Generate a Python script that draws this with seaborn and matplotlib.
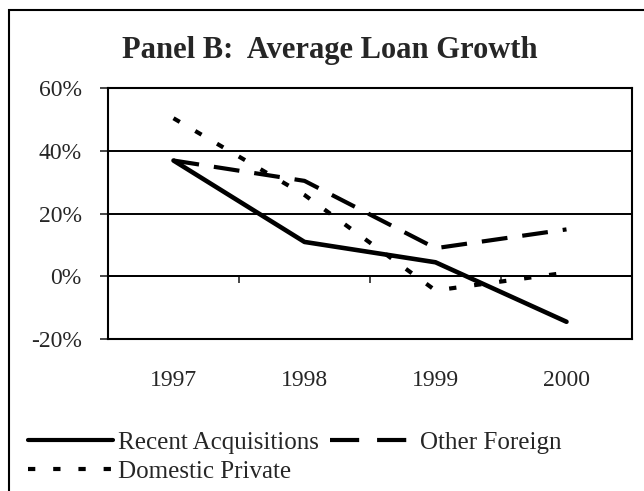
import pandas as pd
import matplotlib.pyplot as plt
from matplotlib.patches import Rectangle
import seaborn as sns

# values (loan growth, %)
years = ['1997', '1998', '1999', '2000']
recent_acq = [37.0, 11.0, 4.5, -14.5]
other_foreign = [37.0, 30.5, 9.0, 15.0]
domestic_private = [50.5, 26.0, -4.5, 1.2]
series_names = ['Recent Acquisitions', 'Other Foreign', 'Domestic Private']
y_ticks = [-20, 0, 20, 40, 60]

df = pd.DataFrame({
    'year': years * 3,
    'growth': recent_acq + other_foreign + domestic_private,
    'series': [s for s in series_names for _ in years],
})

sns.set_style('white')
plt.rcParams['font.family'] = ['Liberation Serif', 'DejaVu Serif']

fig = plt.figure(figsize=(6.44, 4.91), dpi=100)
ax = fig.add_axes([108 / 644, 1 - 339 / 491, (632 - 108) / 644, (339 - 88.5) / 491])

dash_map = {'Recent Acquisitions': '', 'Other Foreign': (6.2, 3.6), 'Domestic Private': (1.75, 4.3)}
sns.lineplot(data=df, x='year', y='growth', hue='series', style='series',
             palette=['black'] * 3, dashes=dash_map, hue_order=series_names,
             style_order=series_names, linewidth=3, ax=ax, sort=False)
for ln in ax.get_lines():
    ln.set_dash_capstyle('butt')
ax.get_lines()[0].set_linewidth(3.3)

ax.set_xlim(-0.5, 3.5)
ax.set_ylim(-20, 60)
ax.set_yticks(y_ticks)
ax.set_yticklabels([f'{v}%' for v in y_ticks])
ax.set_xlabel('')
ax.set_ylabel('')
ax.yaxis.grid(True, color='black', linewidth=1.4)
ax.tick_params(axis='y', direction='out', length=6, width=1.2, pad=13, labelsize=17, left=True)
ax.tick_params(axis='x', length=0, pad=22, labelsize=17)
for sp in ax.spines.values():
    sp.set_visible(True)
    sp.set_color('black')
    sp.set_linewidth(1.5)

# category axis crossing at 0%
sec = ax.secondary_xaxis(0.25)
sec.set_xticks([0.5, 1.5, 2.5])
sec.set_xticklabels(['', '', ''])
sec.tick_params(direction='out', length=5, width=1.2)
sec.spines['bottom'].set_linewidth(1.4)

fig.text(330 / 644, 1 - 58 / 491, 'Panel B:  Average Loan Growth', ha='center',
         va='baseline', fontsize=22, fontweight='bold')

handles, labels = ax.get_legend_handles_labels()
ax.get_legend().remove()
handles[1].set_linestyle((0, (7, 4.3)))
handles[1].set_dash_capstyle('butt')
order = [0, 2, 1]
fig.legend([handles[i] for i in order], [labels[i] for i in order], ncol=2,
           loc='upper left', bbox_to_anchor=(28 / 644, 1 - 431 / 491), frameon=False,
           fontsize=18, handlelength=3.4, handletextpad=0.2, columnspacing=0.45,
           labelspacing=0.26, borderpad=0, borderaxespad=0)

# outer chart border, cut off at right and bottom like the reference
fig.patches.append(Rectangle((8.5 / 644, -0.1), 1.2, 1 - 9.5 / 491 + 0.1,
                             transform=fig.transFigure, fill=False,
                             edgecolor='black', linewidth=1.5))

plt.savefig('out.png', dpi=100)
